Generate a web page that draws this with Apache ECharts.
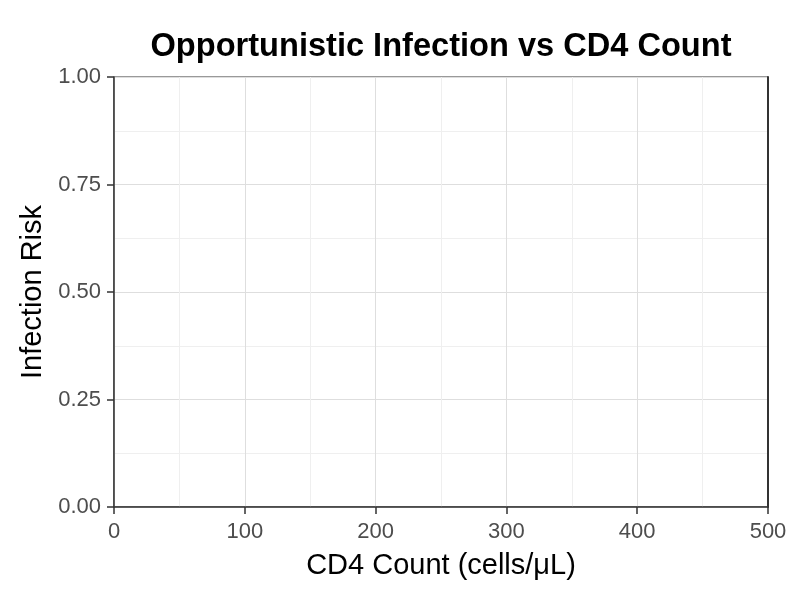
<!DOCTYPE html>
<html>
<head>
<meta charset="utf-8">
<script src="https://cdn.jsdelivr.net/npm/echarts@6/dist/echarts.min.js"></script>
<style>
  html, body { margin: 0; padding: 0; background: #fff; }
  #chart { width: 800px; height: 600px; }
</style>
</head>
<body>
<div id="chart"></div>
<script>
// axis ranges and tick values (the plot holds no data points)
const xTicks = [0, 100, 200, 300, 400, 500];
const yTicks = [0, 0.25, 0.5, 0.75, 1.0];
const cd4Values = [];
const riskValues = [];

const chart = echarts.init(document.getElementById('chart'));
const font = 'Liberation Sans, Arial, sans-serif';
const dark = '#333333';

const option = {
  backgroundColor: '#ffffff',
  title: {
    text: 'Opportunistic Infection vs CD4 Count',
    left: 436,
    top: 26,
    textAlign: 'center',
    textStyle: { fontFamily: font, fontSize: 32.6, fontWeight: 'bold', color: '#000' }
  },
  grid: {
    left: 114, right: 32, top: 77, bottom: 93,
    show: true, borderColor: dark, borderWidth: 1, backgroundColor: '#fff'
  },
  xAxis: {
    type: 'value',
    min: xTicks[0],
    max: xTicks[xTicks.length - 1],
    interval: 100,
    name: 'CD4 Count (cells/μL)',
    nameLocation: 'middle',
    nameGap: 44,
    nameTextStyle: { fontFamily: font, fontSize: 29, color: '#000' },
    axisLine: { show: true, lineStyle: { color: dark, width: 1.5 } },
    axisTick: { show: true, length: 7, lineStyle: { color: dark, width: 1.5 } },
    axisLabel: { fontFamily: font, fontSize: 22, color: '#4d4d4d', margin: 14 },
    splitLine: { show: true, lineStyle: { color: '#dedede', width: 1 } },
    minorTick: { show: false, splitNumber: 2 },
    minorSplitLine: { show: true, lineStyle: { color: '#efefef', width: 1 } }
  },
  yAxis: [{
    type: 'value',
    min: yTicks[0],
    max: yTicks[yTicks.length - 1],
    interval: 0.25,
    name: 'Infection Risk',
    nameLocation: 'middle',
    nameGap: 60,
    nameTextStyle: { fontFamily: font, fontSize: 29, color: '#000' },
    axisLine: { show: true, lineStyle: { color: dark, width: 1.5 } },
    axisTick: { show: true, length: 7, lineStyle: { color: dark, width: 1.5 } },
    axisLabel: {
      fontFamily: font, fontSize: 22, color: '#4d4d4d', margin: 13,
      formatter: v => v.toFixed(2)
    },
    splitLine: { show: true, lineStyle: { color: '#dedede', width: 1 } },
    minorTick: { show: false, splitNumber: 2 },
    minorSplitLine: { show: true, lineStyle: { color: '#efefef', width: 1 } }
  }, {
    type: 'value',
    position: 'right',
    min: 0, max: 1,
    axisLine: { show: true, lineStyle: { color: dark, width: 2 } },
    axisTick: { show: false },
    axisLabel: { show: false },
    splitLine: { show: false }
  }],
  series: [{
    type: 'scatter',
    data: cd4Values.map((x, i) => [x, riskValues[i]]),
    itemStyle: { color: '#000' }
  }]
};
chart.setOption(option);
</script>
</body>
</html>
